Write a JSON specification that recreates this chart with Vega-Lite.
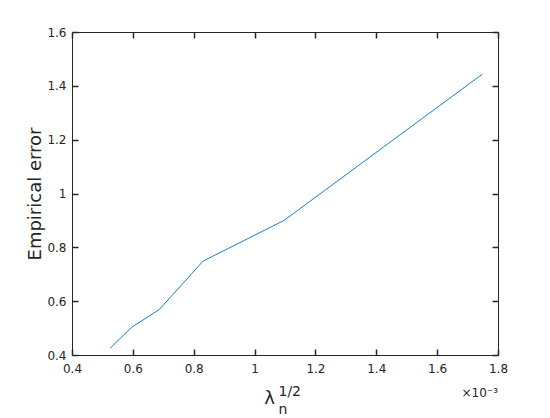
{
  "$schema": "https://vega.github.io/schema/vega-lite/v6.json",
  "autosize": "none",
  "width": 426,
  "height": 323,
  "padding": {"left": 72, "top": 32, "right": 52, "bottom": 63},
  "background": "white",
  "config": {
    "view": {"stroke": "#262626", "strokeWidth": 1},
    "font": "DejaVu Sans"
  },
  "data": {
    "values": [
      {"lambda_sqrt": 0.000525, "error": 0.425},
      {"lambda_sqrt": 0.000596, "error": 0.503},
      {"lambda_sqrt": 0.000687, "error": 0.569},
      {"lambda_sqrt": 0.000831, "error": 0.749},
      {"lambda_sqrt": 0.001097, "error": 0.9},
      {"lambda_sqrt": 0.001748, "error": 1.443}
    ]
  },
  "resolve": {"axis": {"x": "independent", "y": "independent"}},
  "layer": [
    {
      "mark": {"type": "line", "color": "#0072BD", "strokeWidth": 0.9},
      "encoding": {
        "x": {
          "field": "lambda_sqrt", "type": "quantitative",
          "scale": {"domain": [0.0004, 0.0018], "nice": false, "zero": false},
          "axis": {
            "orient": "bottom",
            "grid": false, "domain": false,
            "ticks": true, "tickSize": -6, "tickWidth": 1.5, "tickColor": "#262626",
            "values": [0.0004, 0.0006, 0.0008, 0.001, 0.0012, 0.0014, 0.0016, 0.0018],
            "labelExpr": "format(datum.value*1000, '~g')",
            "labelFont": "DejaVu Sans", "labelFontSize": 12, "labelColor": "#262626",
            "labelPadding": 14,
            "labelFlush": false,
            "title": "λ",
            "titleFont": "DejaVu Sans", "titleFontWeight": "normal", "titleColor": "#262626",
            "titleFontSize": 18,
            "titleX": 197,
            "titleY": 48,
            "titleAlign": "center",
            "titleBaseline": "alphabetic"
          }
        },
        "y": {
          "field": "error", "type": "quantitative",
          "scale": {"domain": [0.4, 1.6], "nice": false, "zero": false},
          "axis": {
            "orient": "left",
            "grid": false, "domain": false,
            "ticks": true, "tickSize": -6, "tickWidth": 1.5, "tickColor": "#262626",
            "values": [0.4, 0.6, 0.8, 1, 1.2, 1.4, 1.6],
            "format": "~g",
            "labelFont": "DejaVu Sans", "labelFontSize": 12, "labelColor": "#262626",
            "labelPadding": 12,
            "labelFlush": false,
            "title": "Empirical error",
            "titleFont": "DejaVu Sans", "titleFontWeight": "normal", "titleColor": "#262626",
            "titleFontSize": 18,
            "titleAngle": -90,
            "titleX": -32,
            "titleY": 161.5,
            "titleAlign": "center",
            "titleBaseline": "alphabetic"
          }
        }
      }
    },
    {
      "mark": {"type": "line", "strokeOpacity": 0},
      "encoding": {
        "x": {
          "field": "lambda_sqrt", "type": "quantitative",
          "axis": {
            "orient": "top",
            "grid": false, "domain": false,
            "ticks": true, "tickSize": -6, "tickWidth": 1.5, "tickColor": "#262626",
            "values": [0.0004, 0.0006, 0.0008, 0.001, 0.0012, 0.0014, 0.0016, 0.0018],
            "labels": false,
            "title": null
          }
        },
        "y": {
          "field": "error", "type": "quantitative",
          "axis": {
            "orient": "right",
            "grid": false, "domain": false,
            "ticks": true, "tickSize": -6, "tickWidth": 1.5, "tickColor": "#262626",
            "values": [0.4, 0.6, 0.8, 1, 1.2, 1.4, 1.6],
            "labels": false,
            "title": null
          }
        }
      }
    },
    {
      "mark": {"type": "line", "strokeOpacity": 0},
      "encoding": {
        "x": {
          "field": "lambda_sqrt", "type": "quantitative",
          "axis": {
            "orient": "bottom",
            "grid": false, "domain": false,
            "labels": false,
            "ticks": false,
            "title": "1/2",
            "titleFont": "DejaVu Sans", "titleFontWeight": "normal", "titleColor": "#262626",
            "titleFontSize": 14,
            "titleX": 206,
            "titleY": 40,
            "titleAlign": "left",
            "titleBaseline": "alphabetic"
          }
        },
        "y": {"field": "error", "type": "quantitative", "axis": null}
      }
    },
    {
      "mark": {"type": "line", "strokeOpacity": 0},
      "encoding": {
        "x": {
          "field": "lambda_sqrt", "type": "quantitative",
          "axis": {
            "orient": "bottom",
            "grid": false, "domain": false,
            "labels": false,
            "ticks": false,
            "title": "n",
            "titleFont": "DejaVu Sans", "titleFontWeight": "normal", "titleColor": "#262626",
            "titleFontSize": 14,
            "titleX": 206,
            "titleY": 58,
            "titleAlign": "left",
            "titleBaseline": "alphabetic"
          }
        },
        "y": {"field": "error", "type": "quantitative", "axis": null}
      }
    },
    {
      "mark": {"type": "line", "strokeOpacity": 0},
      "encoding": {
        "x": {
          "field": "lambda_sqrt", "type": "quantitative",
          "axis": {
            "orient": "bottom",
            "grid": false, "domain": false,
            "labels": false,
            "ticks": false,
            "title": "×10⁻³",
            "titleFont": "DejaVu Sans", "titleFontWeight": "normal", "titleColor": "#262626",
            "titleFontSize": 12,
            "titleX": 389,
            "titleY": 41,
            "titleAlign": "left",
            "titleBaseline": "alphabetic"
          }
        },
        "y": {"field": "error", "type": "quantitative", "axis": null}
      }
    }
  ]
}
